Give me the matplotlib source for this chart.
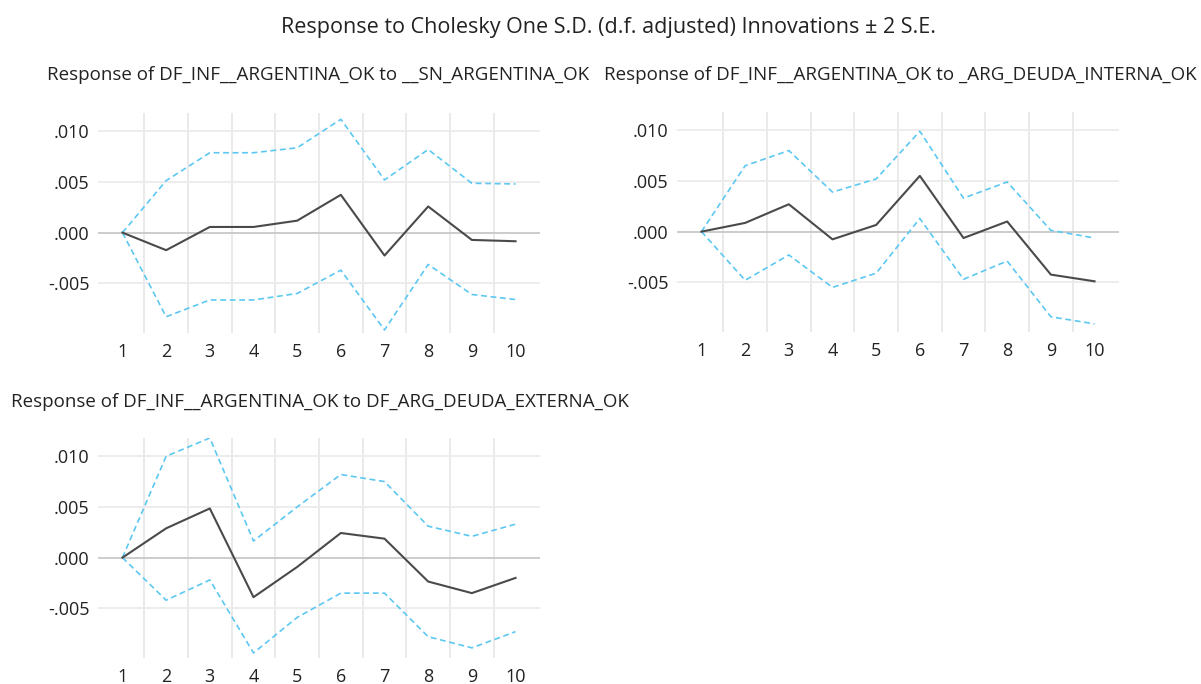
import numpy as np
import matplotlib.pyplot as plt
from matplotlib.ticker import FixedLocator

plt.rcParams['font.family'] = ['Open Sans', 'DejaVu Sans']

# Periods
periods = [1, 2, 3, 4, 5, 6, 7, 8, 9, 10]

# Response of DF_INF__ARGENTINA_OK to __SN_ARGENTINA_OK
sn_resp = [0.0, -0.00173, 0.00056, 0.00056, 0.00118, 0.00373, -0.00226, 0.00258, -0.00072, -0.00085]
sn_upper = [0.0, 0.00513, 0.00788, 0.00788, 0.00837, 0.01118, 0.0052, 0.0082, 0.00487, 0.0048]
sn_lower = [0.0, -0.0083, -0.00664, -0.00664, -0.006, -0.0037, -0.0096, -0.00314, -0.0061, -0.0066]

# Response of DF_INF__ARGENTINA_OK to _ARG_DEUDA_INTERNA_OK
int_resp = [0.0, 0.00086, 0.0027, -0.00076, 0.00066, 0.0055, -0.00063, 0.001, -0.00424, -0.0049]
int_upper = [0.0, 0.0065, 0.008, 0.0039, 0.0052, 0.0099, 0.0033, 0.0049, 0.00013, -0.00063]
int_lower = [0.0, -0.0048, -0.0023, -0.0055, -0.0041, 0.0013, -0.0047, -0.0029, -0.0084, -0.0091]

# Response of DF_INF__ARGENTINA_OK to DF_ARG_DEUDA_EXTERNA_OK
ext_resp = [0.0, 0.00289, 0.00485, -0.0039, -0.00092, 0.00243, 0.00187, -0.00236, -0.0035, -0.002]
ext_upper = [0.0, 0.0100, 0.0118, 0.00164, 0.005, 0.0082, 0.0075, 0.0031, 0.0021, 0.0033]
ext_lower = [0.0, -0.0042, -0.0022, -0.0094, -0.0059, -0.0035, -0.0035, -0.0078, -0.0089, -0.0073]

y_ticks = [-0.005, 0.0, 0.005, 0.010]
y_labels = ['-.005', '.000', '.005', '.010']

W, H = 1201, 684
fig = plt.figure(figsize=(W / 100, H / 100), dpi=100)


def px_axes(x0, y0, x1, y1):
    return fig.add_axes([x0 / W, 1 - y1 / H, (x1 - x0) / W, (y1 - y0) / H])


def panel(ax, resp, upper, lower, title, tx, ty, ha):
    ax.set_xlim(0.44, 10.56)
    ax.set_ylim(-0.0099, 0.0118)
    for s in ax.spines.values():
        s.set_visible(False)
    for v in np.arange(1.5, 10, 1.0):
        ax.axvline(v, color='#e6e6e6', lw=1.2, zorder=0)
    for t in y_ticks:
        ax.axhline(t, color='#c8c8c8' if t == 0 else '#ececec', lw=1.3, zorder=0)
    ax.plot(periods, upper, color='#5cc8f2', lw=1.2, ls=(0, (3.5, 2.2)), zorder=2)
    ax.plot(periods, lower, color='#5cc8f2', lw=1.2, ls=(0, (3.5, 2.2)), zorder=2)
    ax.plot(periods, resp, color='#4a4a4a', lw=1.5, zorder=3)
    ax.set_xticks(periods)
    ax.set_xticklabels([str(p) for p in periods])
    ax.yaxis.set_major_locator(FixedLocator(y_ticks))
    ax.set_yticklabels(y_labels)
    ax.tick_params(length=0, labelsize=13, labelcolor='#222222')
    ax.tick_params(axis='x', pad=7)
    ax.tick_params(axis='y', pad=6)
    fig.text(tx / W, 1 - ty / H, title, ha=ha, va='center', fontsize=13.5, color='#222222')


ax1 = px_axes(98, 113, 540, 333)
panel(ax1, sn_resp, sn_upper, sn_lower,
      'Response of DF_INF__ARGENTINA_OK to __SN_ARGENTINA_OK', 318, 75, 'center')

ax2 = px_axes(677, 112, 1119, 332)
panel(ax2, int_resp, int_upper, int_lower,
      'Response of DF_INF__ARGENTINA_OK to _ARG_DEUDA_INTERNA_OK', 900, 75, 'center')

ax3 = px_axes(98, 438, 540, 658)
panel(ax3, ext_resp, ext_upper, ext_lower,
      'Response of DF_INF__ARGENTINA_OK to DF_ARG_DEUDA_EXTERNA_OK', 11, 402, 'left')

fig.text(608 / W, 1 - 28 / H,
         'Response to Cholesky One S.D. (d.f. adjusted) Innovations \u00b1 2 S.E.',
         ha='center', va='center', fontsize=15.5, color='#222222')

fig.savefig('out.png', dpi=100)
